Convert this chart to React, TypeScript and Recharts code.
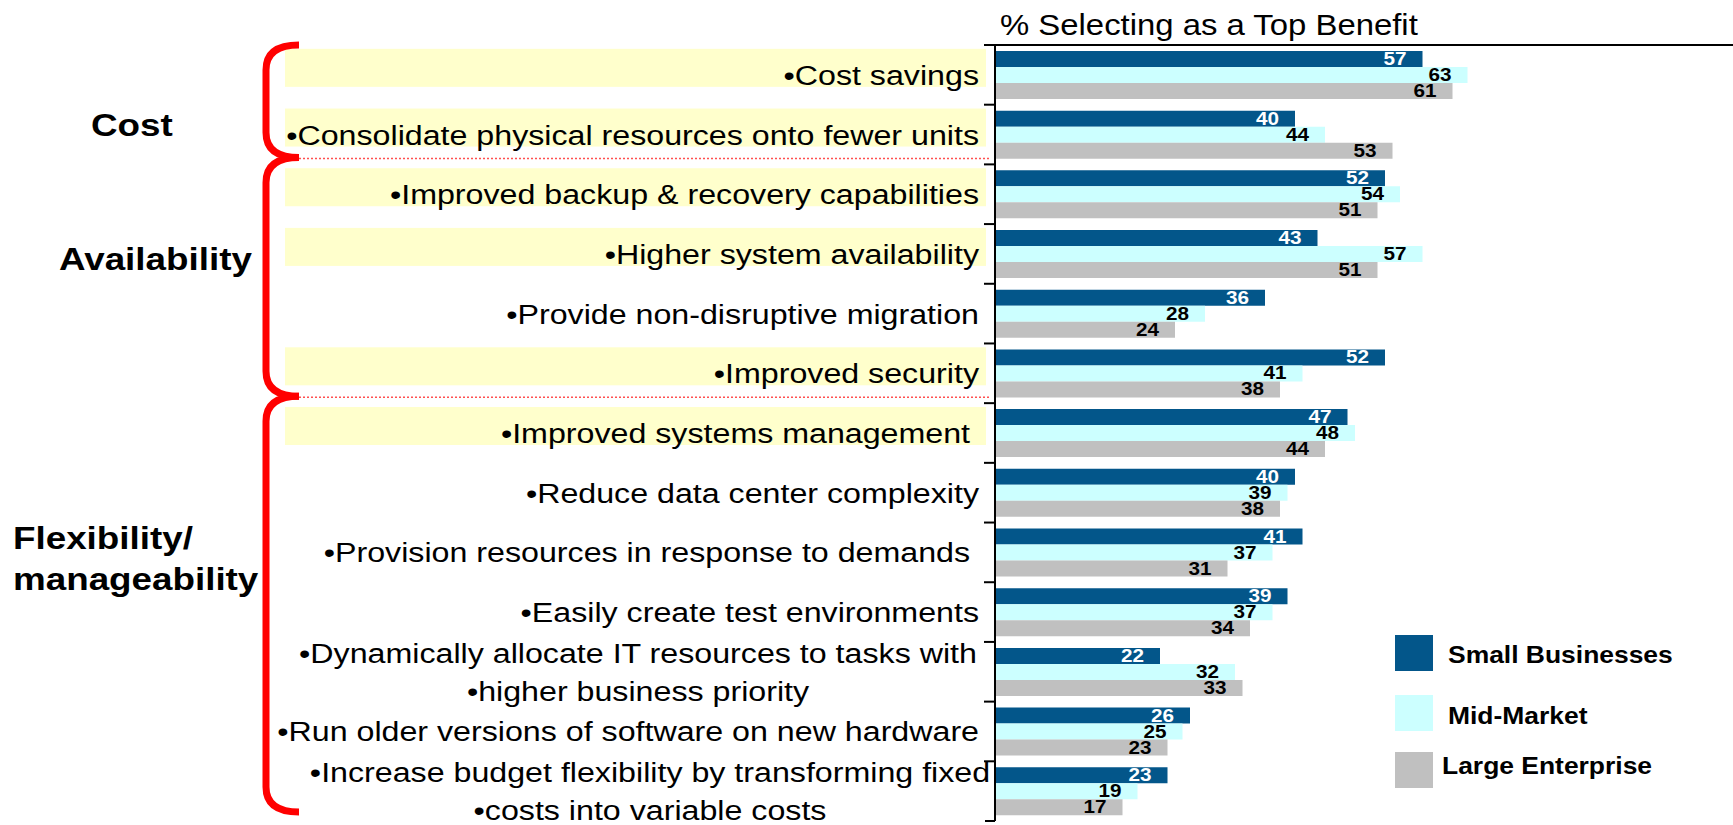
import React from 'react';
import { BarChart, Bar, XAxis, YAxis, Legend, LabelList } from 'recharts';

// ---------- data ----------
const categories = [
  '•Cost savings',
  '•Consolidate physical resources onto fewer units',
  '•Improved backup & recovery capabilities',
  '•Higher system availability',
  '•Provide non-disruptive migration',
  '•Improved security',
  '•Improved systems management ',
  '•Reduce data center complexity',
  '•Provision resources in response to demands ',
  '•Easily create test environments',
  '•Dynamically allocate IT resources to tasks with\n•higher business priority',
  '•Run older versions of software on new hardware',
  '•Increase budget flexibility by transforming fixed\n•costs into variable costs',
];
const smallBusinesses = [57, 40, 52, 43, 36, 52, 47, 40, 41, 39, 22, 26, 23];
const midMarket = [63, 44, 54, 57, 28, 41, 48, 39, 37, 37, 32, 25, 19];
const largeEnterprise = [61, 53, 51, 51, 24, 38, 44, 38, 31, 34, 33, 23, 17];
const highlighted = [true, true, true, true, false, true, true, false, false, false, false, false, false];
const groupNames = ['Cost', 'Availability', 'Flexibility/\nmanageability'];
const groupSizes = [2, 4, 7];
const seriesNames = ['Small Businesses', 'Mid-Market', 'Large Enterprise'];
const titleText = '% Selecting as a Top Benefit';

// ---------- styles / layout ----------
const COLORS = ['#03568A', '#CCFFFF', '#C0C0C0'];
const LABEL_FILL = ['#FFFFFF', '#000000', '#000000'];
const FONT = '"Liberation Sans", Arial, sans-serif';
const SX = 1.15;
const W = 1733;
const H = 825;
const PLOT_TOP = 45;
const X_AXIS_H = 30;
const M_BOTTOM = 4;
const AXIS_X = 995;
const N = categories.length;
const BAND = (H - PLOT_TOP - M_BOTTOM) / N;
const X_MAX = (W - AXIS_X) / 7.5;
const MULTI_CENTER: Record<number, number> = { 10: 638, 12: 650 };
const GROUP_LABEL_POS = [
  { x: 91, y: 136 },
  { x: 59, y: 270 },
  { x: 13, y: 549 },
];
const BRACE_END_X = 299;
const BRACE_X = 266;
const BRACE_R = 25;

const data = categories.map((name, i) => ({
  name,
  small: smallBusinesses[i],
  mid: midMarket[i],
  large: largeEnterprise[i],
}));

function STxt(p: any) {
  const { x, y, size, weight = 'normal', fill = '#000', anchor = 'start', children } = p;
  return (
    <text
      transform={`translate(${x},${y}) scale(${SX},1)`}
      x={0}
      y={0}
      fontSize={size}
      fontWeight={weight}
      fill={fill}
      textAnchor={anchor}
      fontFamily={FONT}
      style={{ whiteSpace: 'pre' }}
    >
      {children}
    </text>
  );
}

const makeValueLabel = (fill: string) => (props: any) => {
  const { x, y, width, height, value } = props;
  return (
    <STxt x={x + width - 16} y={y + height / 2 + 6} size={18} weight="bold" fill={fill} anchor="end">
      {value}
    </STxt>
  );
};

function CategoryTick(props: any) {
  const { y, index, payload } = props;
  const lines = String(payload.value).split('\n');
  const top = y - BAND / 2;
  const bottom = y + BAND / 2;
  const els: any[] = [];
  if (highlighted[index]) {
    els.push(<rect key="hl" x={285} y={y - 26} width={701} height={38} fill="#FFFFCC" />);
  }
  if (lines.length === 1) {
    els.push(
      <STxt key="t" x={979} y={y + 10} size={28} anchor="end">
        {lines[0]}
      </STxt>
    );
  } else {
    lines.forEach((ln, k) =>
      els.push(
        <STxt key={'t' + k} x={MULTI_CENTER[index] ?? 640} y={y - 9 + k * 38} size={28} anchor="middle">
          {ln}
        </STxt>
      )
    );
  }
  els.push(<line key="tk" x1={AXIS_X - 11} x2={AXIS_X} y1={top} y2={top} stroke="#000" strokeWidth={2} />);
  if (index === N - 1) {
    els.push(<line key="tkb" x1={AXIS_X - 10} x2={AXIS_X} y1={bottom} y2={bottom} stroke="#000" strokeWidth={2} />);
  }
  // group decorations, drawn at the last category of each group
  let start = 0;
  groupSizes.forEach((size, g) => {
    const end = start + size - 1;
    if (end === index) {
      const gTop = y - BAND / 2 - BAND * (size - 1);
      const yt = g === 0 ? gTop : gTop - 7;
      const yb = g === groupSizes.length - 1 ? bottom - 9 : bottom - 7;
      const d = `M ${BRACE_END_X} ${yt} Q ${BRACE_X} ${yt} ${BRACE_X} ${yt + BRACE_R} L ${BRACE_X} ${yb - BRACE_R} Q ${BRACE_X} ${yb} ${BRACE_END_X} ${yb}`;
      if (g < groupSizes.length - 1) {
        els.push(
          <line key={'dl' + g} x1={BRACE_END_X} x2={AXIS_X - 4} y1={yb + 1} y2={yb + 1} stroke="#FF5050" strokeWidth={1.5} strokeDasharray="2 2" />
        );
      }
      els.push(<path key={'br' + g} d={d} fill="none" stroke="#FF0000" strokeWidth={7} />);
      const pos = GROUP_LABEL_POS[g];
      groupNames[g].split('\n').forEach((ln, k) =>
        els.push(
          <STxt key={'g' + g + k} x={pos.x} y={pos.y + k * 41} size={32} weight="bold">
            {ln}
          </STxt>
        )
      );
    }
    start += size;
  });
  return <g>{els}</g>;
}

function TitleLabel(props: any) {
  const vb = props.viewBox || { x: AXIS_X, y: PLOT_TOP - X_AXIS_H, height: X_AXIS_H };
  return (
    <STxt x={vb.x + 5} y={vb.y + vb.height - 10} size={28.6}>
      {titleText}
    </STxt>
  );
}

function LegendContent() {
  const rows = [
    { top: 5, base: 33, tx: 53 },
    { top: 65, base: 94, tx: 53 },
    { top: 122, base: 144, tx: 47 },
  ];
  return (
    <svg width={340} height={170}>
      {seriesNames.map((nm, i) => (
        <g key={nm}>
          <rect x={0} y={rows[i].top} width={38} height={36} fill={COLORS[i]} />
          <STxt x={rows[i].tx} y={rows[i].base} size={23} weight="bold">
            {nm}
          </STxt>
        </g>
      ))}
    </svg>
  );
}

export default function App() {
  return (
    <div style={{ position: 'absolute', left: 0, top: 0, width: W, height: H, background: '#fff' }}>
      <BarChart
        width={W}
        height={H}
        data={data}
        layout="vertical"
        margin={{ top: PLOT_TOP - X_AXIS_H, right: 0, bottom: M_BOTTOM, left: 0 }}
        barCategoryGap="10%"
        barGap={0}
      >
        <XAxis
          type="number"
          orientation="top"
          domain={[0, X_MAX]}
          allowDataOverflow
          height={X_AXIS_H}
          tick={false}
          tickLine={false}
          axisLine={{ stroke: '#000', strokeWidth: 2 }}
          label={{ content: TitleLabel }}
        />
        <YAxis
          type="category"
          dataKey="name"
          width={AXIS_X}
          interval={0}
          tickLine={false}
          axisLine={{ stroke: '#000', strokeWidth: 2 }}
          tick={(p: any) => <CategoryTick {...p} />}
        />
        <Legend
          layout="vertical"
          align="center"
          verticalAlign="middle"
          wrapperStyle={{ left: 1395, top: 630, width: 340, height: 170 }}
          content={() => <LegendContent />}
        />
        <Bar dataKey="small" name={seriesNames[0]} fill={COLORS[0]} isAnimationActive={false}>
          <LabelList dataKey="small" content={makeValueLabel(LABEL_FILL[0])} />
        </Bar>
        <Bar dataKey="mid" name={seriesNames[1]} fill={COLORS[1]} isAnimationActive={false}>
          <LabelList dataKey="mid" content={makeValueLabel(LABEL_FILL[1])} />
        </Bar>
        <Bar dataKey="large" name={seriesNames[2]} fill={COLORS[2]} isAnimationActive={false}>
          <LabelList dataKey="large" content={makeValueLabel(LABEL_FILL[2])} />
        </Bar>
      </BarChart>
    </div>
  );
}
